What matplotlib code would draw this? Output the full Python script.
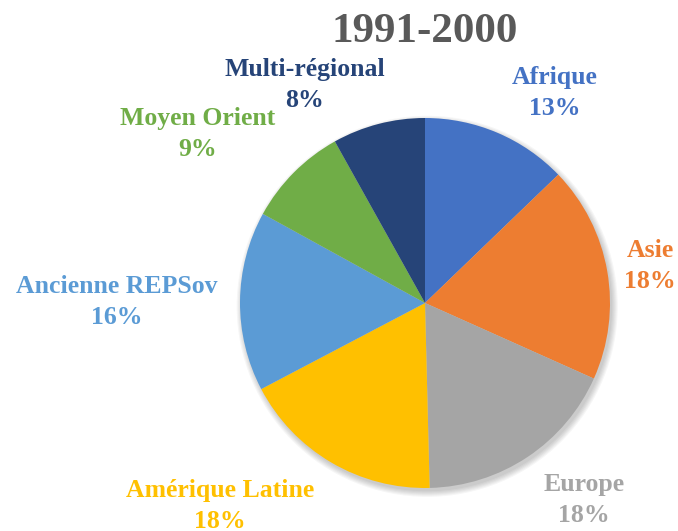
import matplotlib.pyplot as plt
from matplotlib.patches import Circle

# data
regions = ['Afrique', 'Asie', 'Europe', 'Amérique Latine',
           'Ancienne REPSov', 'Moyen Orient', 'Multi-régional']
shares = [12.8, 18.9, 17.9, 17.7, 15.7, 8.9, 8.1]   # measured wedge sizes
pct_labels = [13, 18, 18, 18, 16, 9, 8]              # printed percentages
colors = ['#4472C4', '#ED7D31', '#A5A5A5', '#FFC000',
          '#5B9BD5', '#70AD47', '#264478']

# label placement (in units of the pie radius)
label_xy = [(0.70, 1.135), (1.216, 0.20), (0.86, -1.065), (-1.108, -1.097),
            (-1.665, 0.005), (-1.227, 0.914), (-0.649, 1.178)]

plt.rcParams['font.family'] = 'Liberation Serif'

fig = plt.figure(figsize=(6.78, 5.31), dpi=100)
# pie centre at (425, 303) px, radius 185 px
ax = fig.add_axes([(425 - 185) / 678, (531 - 303 - 185) / 531, 370 / 678, 370 / 531])

# soft drop shadow
for i in range(6):
    ax.add_patch(Circle((0.012, -0.018), 1.0 + 0.006 * i, color='black',
                        alpha=0.035, lw=0, zorder=0, clip_on=False))

ax.pie(shares, colors=colors, startangle=90, counterclock=False,
       wedgeprops=dict(edgecolor='none', zorder=2, clip_on=False))
ax.set_xlim(-1, 1)
ax.set_ylim(-1, 1)
ax.set_aspect('equal')

for name, val, col, (x, y) in zip(regions, pct_labels, colors, label_xy):
    ax.text(x, y, f'{name}\n{val}%', color=col, ha='center', va='center',
            fontsize=18.5, fontweight='bold', linespacing=1.42, clip_on=False)

fig.text(425 / 678, 1 - 32 / 531, '1991-2000', ha='center', va='center',
         fontsize=31, fontweight='bold', color='#595959')

plt.savefig('out.png', dpi=100)
